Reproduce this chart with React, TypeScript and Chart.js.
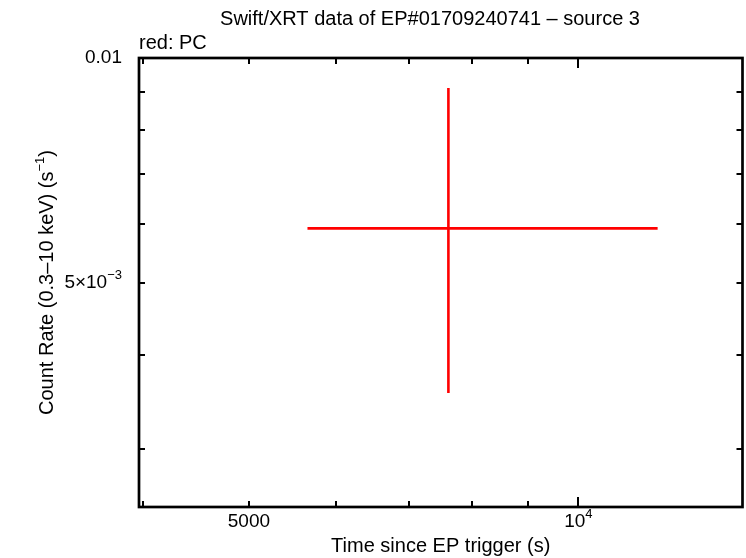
import React, { useEffect, useRef } from "react";
import { Chart, registerables } from "chart.js";

Chart.register(...registerables);

// ---- data ----
const pointTime = [7608];
const timeLow = [5656];
const timeHigh = [11815];
const pointRate = [0.005916];
const rateLow = [0.003563];
const rateHigh = [0.009117];

const xRange = [3968, 14125];
const yRange = [0.002507, 0.01];

const xTickValues = [4000, 5000, 6000, 7000, 8000, 9000, 10000];
const xTickMajor = [false, false, false, false, false, false, true];
const xTickLabels = ["", "5000", "", "", "", "", "10^4"];

const yTickValues = [0.003, 0.004, 0.005, 0.006, 0.007, 0.008, 0.009, 0.01];
const yTickLabels = ["", "", "5×10^−3", "", "", "", "", "0.01"];

const chartTitle = "Swift/XRT data of EP#01709240741 – source 3";
const seriesNote = "red: PC";
const xTitle = "Time since EP trigger (s)";
const yTitleBase = "Count Rate (0.3–10 keV) (s";
const yTitleSup = "−1";
const yTitleEnd = ")";

const FONT = "'Liberation Sans', Arial, Helvetica, sans-serif";

function drawRich(
  ctx: CanvasRenderingContext2D,
  text: string,
  x: number,
  y: number,
  align: "left" | "center" | "right",
  size: number
) {
  const parts = text.split("^");
  const base = parts[0];
  const sup = parts[1] || "";
  ctx.font = `${size}px ${FONT}`;
  const wb = ctx.measureText(base).width;
  const supSize = Math.round(size * 0.68);
  ctx.font = `${supSize}px ${FONT}`;
  const ws = sup ? ctx.measureText(sup).width : 0;
  const total = wb + ws;
  let x0 = x;
  if (align === "center") x0 = x - total / 2;
  else if (align === "right") x0 = x - total;
  ctx.textAlign = "left";
  ctx.textBaseline = "middle";
  ctx.font = `${size}px ${FONT}`;
  ctx.fillText(base, x0, y);
  if (sup) {
    ctx.font = `${supSize}px ${FONT}`;
    ctx.fillText(sup, x0 + wb, y - size * 0.38);
  }
}

const framePlugin = {
  id: "gnuplotFrame",
  afterDraw(chart: any) {
    const ctx: CanvasRenderingContext2D = chart.ctx;
    const { left, right, top, bottom } = chart.chartArea;
    const xs = chart.scales.x;
    const ys = chart.scales.y;
    ctx.save();
    ctx.strokeStyle = "#000";
    // ticks
    ctx.lineWidth = 2;
    ctx.lineCap = "butt";
    xTickValues.forEach((v, i) => {
      const px = Math.round(xs.getPixelForValue(v));
      const len = xTickMajor[i] ? 10 : 6;
      ctx.beginPath();
      ctx.moveTo(px, bottom);
      ctx.lineTo(px, bottom - len);
      ctx.moveTo(px, top);
      ctx.lineTo(px, top + len);
      ctx.stroke();
    });
    yTickValues.forEach((v) => {
      const py = Math.round(ys.getPixelForValue(v));
      const len = 6;
      ctx.beginPath();
      ctx.moveTo(left, py);
      ctx.lineTo(left + len, py);
      ctx.moveTo(right, py);
      ctx.lineTo(right - len, py);
      ctx.stroke();
    });
    // frame
    ctx.lineWidth = 2.7;
    ctx.strokeRect(left, top, right - left, bottom - top);

    ctx.fillStyle = "#000";
    // tick labels
    xTickValues.forEach((v, i) => {
      if (!xTickLabels[i]) return;
      drawRich(ctx, xTickLabels[i], xs.getPixelForValue(v), bottom + 15, "center", 19);
    });
    yTickValues.forEach((v, i) => {
      const t = yTickLabels[i];
      if (!t) return;
      drawRich(ctx, t, left - 17, ys.getPixelForValue(v), "right", 19);
    });

    // titles
    ctx.textBaseline = "middle";
    ctx.textAlign = "center";
    ctx.font = `20px ${FONT}`;
    ctx.fillText(chartTitle, 430, 19);
    ctx.textAlign = "left";
    ctx.fillText(seriesNote, left, 43);
    ctx.textAlign = "center";
    ctx.fillText(xTitle, (left + right) / 2, 546);

    // y title rotated
    ctx.save();
    ctx.translate(47, (top + bottom) / 2);
    ctx.rotate(-Math.PI / 2);
    ctx.font = `20px ${FONT}`;
    const w1 = ctx.measureText(yTitleBase).width;
    ctx.font = `13px ${FONT}`;
    const w2 = ctx.measureText(yTitleSup).width;
    ctx.font = `20px ${FONT}`;
    const w3 = ctx.measureText(yTitleEnd).width;
    const tot = w1 + w2 + w3;
    const x0 = -tot / 2;
    ctx.textAlign = "left";
    ctx.fillText(yTitleBase, x0, 0);
    ctx.font = `13px ${FONT}`;
    ctx.fillText(yTitleSup, x0 + w1, -7);
    ctx.font = `20px ${FONT}`;
    ctx.fillText(yTitleEnd, x0 + w1 + w2, 0);
    ctx.restore();

    ctx.restore();
  },
};

export default function App() {
  const ref = useRef<HTMLCanvasElement | null>(null);

  useEffect(() => {
    if (!ref.current) return;
    const datasets: any[] = [];
    pointTime.forEach((t, i) => {
      datasets.push({
        data: [
          { x: timeLow[i], y: pointRate[i] },
          { x: timeHigh[i], y: pointRate[i] },
        ],
        showLine: true,
        borderColor: "#ff0000",
        borderWidth: 2.6,
        pointRadius: 0,
        borderCapStyle: "butt",
      });
      datasets.push({
        data: [
          { x: t, y: rateLow[i] },
          { x: t, y: rateHigh[i] },
        ],
        showLine: true,
        borderColor: "#ff0000",
        borderWidth: 2.6,
        pointRadius: 0,
        borderCapStyle: "butt",
      });
    });

    const chart = new Chart(ref.current, {
      type: "scatter",
      data: { datasets },
      options: {
        animation: false,
        responsive: false,
        devicePixelRatio: 1,
        layout: { padding: { top: 58, right: 3.5, left: 0, bottom: 0 } },
        plugins: {
          legend: { display: false },
          title: { display: false },
          tooltip: { enabled: false },
        },
        scales: {
          x: {
            type: "logarithmic",
            min: xRange[0],
            max: xRange[1],
            grid: { display: false },
            border: { display: false },
            ticks: { display: false },
            afterFit: (s: any) => {
              s.height = 51;
            },
          },
          y: {
            type: "logarithmic",
            min: yRange[0],
            max: yRange[1],
            grid: { display: false },
            border: { display: false },
            ticks: { display: false },
            afterFit: (s: any) => {
              s.width = 139;
            },
          },
        },
      } as any,
      plugins: [framePlugin],
    });
    return () => chart.destroy();
  }, []);

  return (
    <div style={{ position: "absolute", left: 0, top: 0, width: 746, height: 558, background: "#fff" }}>
      <canvas ref={ref} width={746} height={558} style={{ width: 746, height: 558, display: "block" }} />
    </div>
  );
}
